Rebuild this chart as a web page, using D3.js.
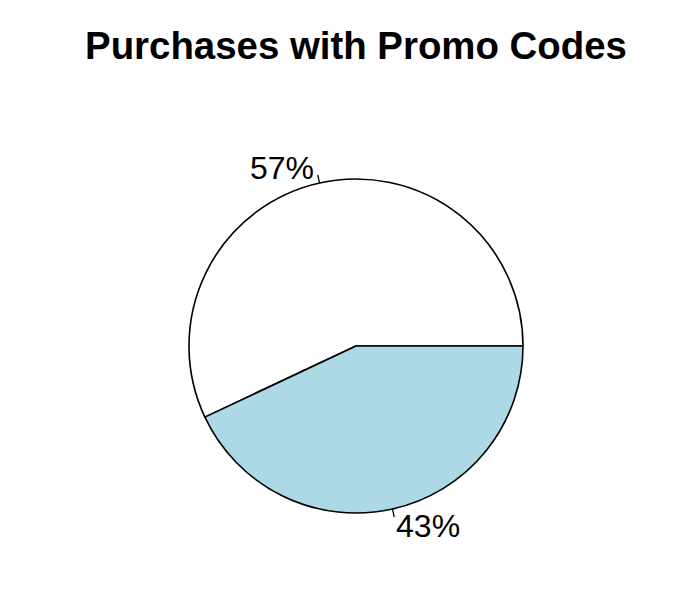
<!DOCTYPE html>
<html><head><meta charset="utf-8">
<script src="https://cdn.jsdelivr.net/npm/d3@7"></script>
<style>body{margin:0;background:#fff}svg{display:block}</style>
</head><body>
<script>
const categories = ["No Promo Code", "Promo Code"];
const values = [57, 43];
const labels = ["57%", "43%"];
const colors = ["#ffffff", "#ADD8E6"];

const W = 698, H = 598, cx = 356, cy = 346, r = 167;
const svg = d3.select("body").append("svg").attr("width", W).attr("height", H);

svg.append("text").attr("x", cx).attr("y", 59).attr("text-anchor", "middle")
  .attr("font-family", "Liberation Sans, Arial, sans-serif").attr("font-weight", "bold")
  .attr("font-size", 38.4).text("Purchases with Promo Codes");

const total = d3.sum(values);
// R pie: start at 3 o'clock, counter-clockwise. angle in math radians
const toMath = d3.scaleLinear().domain([0, total]).range([0, 2 * Math.PI]);
let cum = 0;
const slices = values.map((v, i) => { const s = { a0: toMath(cum), a1: toMath(cum + v), i }; cum += v; return s; });

const g = svg.append("g").attr("transform", `translate(${cx},${cy})`);
// d3.arc angles: 0 at 12 o'clock clockwise; math angle t -> d3 angle = PI/2 - t
const arc = d3.arc().innerRadius(0).outerRadius(r);
slices.forEach(s => {
  g.append("path")
    .attr("d", arc({ startAngle: Math.PI / 2 - s.a1, endAngle: Math.PI / 2 - s.a0 }))
    .attr("fill", colors[s.i]).attr("stroke", "#000").attr("stroke-width", 1.6)
    .attr("stroke-linejoin", "round");
  const m = (s.a0 + s.a1) / 2, c = Math.cos(m), sn = Math.sin(m);
  g.append("line").attr("x1", r * c).attr("y1", -r * sn).attr("x2", 1.05 * r * c).attr("y2", -1.05 * r * sn)
    .attr("stroke", "#000").attr("stroke-width", 1.3);
  g.append("text").attr("x", 1.1 * r * c + (c < 0 ? -2 : 0)).attr("y", -1.1 * r * sn + 11.8)
    .attr("text-anchor", c < 0 ? "end" : "start")
    .attr("font-family", "Liberation Sans, Arial, sans-serif").attr("font-size", 32)
    .text(labels[s.i]);
});
</script>
</body></html>
